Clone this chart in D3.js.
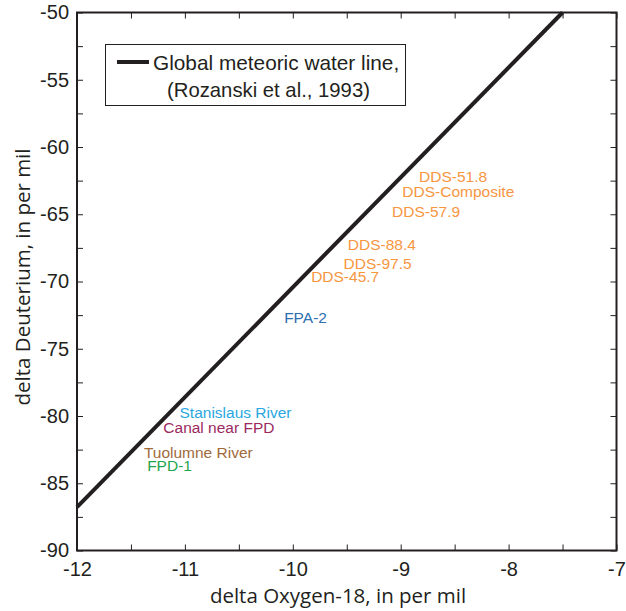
<!DOCTYPE html>
<html>
<head>
<meta charset="utf-8">
<script src="https://cdn.jsdelivr.net/npm/d3@7"></script>
<style>
  body { margin: 0; background: #fff; }
  svg text { font-family: "Liberation Sans", Arial, sans-serif; }
</style>
</head>
<body>
<svg width="626" height="611"></svg>
<script>
// sample labels, placed at their delta O-18 / delta D values (per mil)
var sampleNames = ["DDS-51.8", "DDS-Composite", "DDS-57.9", "DDS-88.4", "DDS-97.5", "DDS-45.7",
  "FPA-2", "Stanislaus River", "Canal near FPD", "Tuolumne River", "FPD-1"];
var sampleO18 = [-8.83, -8.985, -9.08, -9.49, -9.53, -9.83, -10.08, -11.05, -11.2, -11.38, -11.35];
var sampleD = [-62.6, -63.7, -65.2, -67.65, -69.1, -70.05, -73.05, -80.15, -81.25, -83.1, -84.1];
var sampleColors = ["#f7963f", "#f7963f", "#f7963f", "#f7963f", "#f7963f", "#f7963f",
  "#2e70b0", "#29a8e0", "#9b2a5f", "#a06a3c", "#1fa64d"];

// global meteoric water line, dD = 8.17 d18O + 11.27
var gmwlO18 = [-12, -7.5];
var gmwlD = gmwlO18.map(function (v) { return +(8.17 * v + 11.27).toFixed(2); });

var xTicks = [-12, -11, -10, -9, -8, -7];
var yTicks = [-90, -85, -80, -75, -70, -65, -60, -55, -50];

var svg = d3.select("svg"),
  plotL = 77, plotR = 616.5, plotT = 12.5, plotB = 550.5;

var x = d3.scaleLinear().domain([-12, -7]).range([plotL, plotR]);
var y = d3.scaleLinear().domain([-90, -50]).range([plotB, plotT]);

var dark = "#231f20";

// minor ticks every half unit in x, every 2.5 in y
var xMinor = d3.range(-12, -6.9, 0.5);
var yMinor = d3.range(-90, -49.9, 2.5);

function styleAxis(g) {
  g.select(".domain").remove();
  g.selectAll(".tick line").attr("stroke", dark).attr("stroke-width", 1);
  g.selectAll(".tick text").attr("fill", dark).attr("font-size", "20px")
    .attr("font-family", "Liberation Sans, Arial, sans-serif");
}

svg.append("g")
  .attr("transform", "translate(0," + plotB + ")")
  .call(d3.axisBottom(x).tickValues(xMinor).tickSize(-6).tickFormat(""))
  .call(styleAxis);
svg.append("g")
  .attr("transform", "translate(0," + plotB + ")")
  .call(d3.axisBottom(x).tickValues(xTicks).tickSize(0).tickPadding(6)
    .tickFormat(function (d) { return "-" + Math.abs(d); }))
  .call(styleAxis)
  .selectAll(".tick text").attr("dy", "0.95em");
svg.append("g")
  .attr("transform", "translate(0," + plotT + ")")
  .call(d3.axisTop(x).tickValues(xMinor).tickSize(-6).tickFormat(""))
  .call(styleAxis);

svg.append("g")
  .attr("transform", "translate(" + plotL + ",0)")
  .call(d3.axisLeft(y).tickValues(yMinor).tickSize(-6).tickFormat(""))
  .call(styleAxis);
svg.append("g")
  .attr("transform", "translate(" + plotL + ",0)")
  .call(d3.axisLeft(y).tickValues(yTicks).tickSize(0).tickPadding(8)
    .tickFormat(function (d) { return "-" + Math.abs(d); }))
  .call(styleAxis);
svg.append("g")
  .attr("transform", "translate(" + plotR + ",0)")
  .call(d3.axisRight(y).tickValues(yMinor).tickSize(-6).tickFormat(""))
  .call(styleAxis);

// frame
svg.append("rect")
  .attr("x", plotL).attr("y", plotT)
  .attr("width", plotR - plotL).attr("height", plotB - plotT)
  .attr("fill", "none").attr("stroke", dark).attr("stroke-width", 2);

// water line
var line = d3.line()
  .x(function (d) { return x(d[0]); })
  .y(function (d) { return y(d[1]); });
svg.append("path")
  .datum(d3.zip(gmwlO18, gmwlD))
  .attr("d", line)
  .attr("fill", "none").attr("stroke", dark).attr("stroke-width", 4);

// sample labels
svg.selectAll(".sample")
  .data(sampleNames)
  .enter()
  .append("text")
  .attr("class", "sample")
  .attr("x", function (d, i) { return x(sampleO18[i]); })
  .attr("y", function (d, i) { return y(sampleD[i]); })
  .attr("font-size", "15.5px")
  .attr("fill", function (d, i) { return sampleColors[i]; })
  .text(function (d) { return d; });

// legend
var lg = svg.append("g");
lg.append("rect")
  .attr("x", 105.5).attr("y", 44.5).attr("width", 300).attr("height", 61)
  .attr("fill", "#fff").attr("stroke", dark).attr("stroke-width", 1);
lg.append("line")
  .attr("x1", 117).attr("x2", 149).attr("y1", 62).attr("y2", 62)
  .attr("stroke", dark).attr("stroke-width", 4);
lg.append("text").attr("x", 153).attr("y", 70)
  .attr("font-size", "20.8px").attr("fill", dark)
  .text("Global meteoric water line,");
lg.append("text").attr("x", 167).attr("y", 97)
  .attr("font-size", "20.3px").attr("fill", dark)
  .text("(Rozanski et al., 1993)");

// axis titles
svg.append("text")
  .attr("x", 338).attr("y", 603)
  .attr("text-anchor", "middle")
  .attr("font-size", "20.5px").attr("fill", dark)
  .style("font-family", "'Open Sans', sans-serif")
  .text("delta Oxygen-18, in per mil");
svg.append("text")
  .attr("transform", "translate(30,277) rotate(-90)")
  .attr("text-anchor", "middle")
  .attr("font-size", "20.5px").attr("fill", dark)
  .style("font-family", "'Open Sans', sans-serif")
  .text("delta Deuterium, in per mil");
</script>
</body>
</html>
